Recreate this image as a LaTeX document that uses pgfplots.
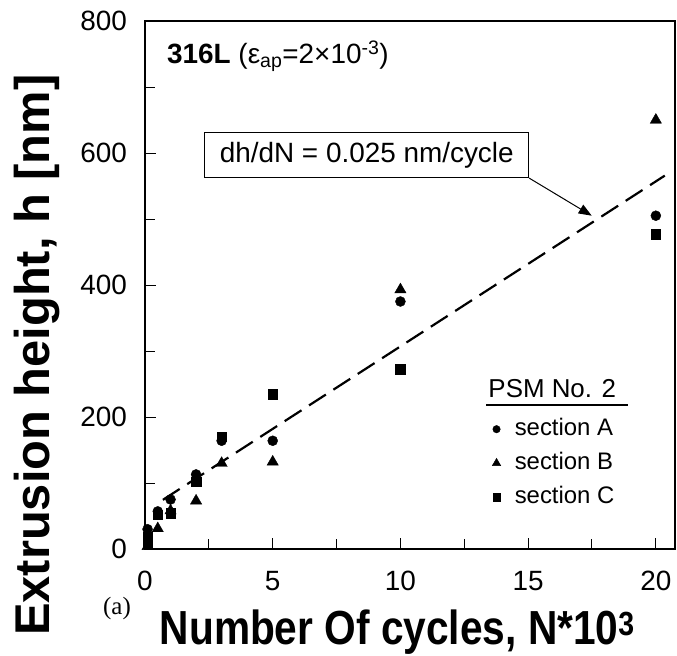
\documentclass[border=0pt]{standalone}
\usepackage{fontspec}
\setmainfont{Liberation Sans}
\newfontfamily\seriffont{Liberation Serif}
\usepackage{graphicx}
\usepackage{pgfplots}
\pgfplotsset{compat=1.18}
\usetikzlibrary{arrows.meta}

\begin{document}
\begin{tikzpicture}
\begin{axis}[
  at={(0bp,0bp)}, anchor=south west,
  width=530bp, height=528bp, scale only axis,
  xmin=0, xmax=20.75, ymin=0, ymax=800,
  xtick={0,5,10,15,20}, minor xtick={2.5,7.5,12.5,17.5},
  ytick={0,200,400,600,800}, minor ytick={100,300,500,700},
  xtick pos=bottom, ytick pos=left,
  tick align=inside, major tick length=11bp, minor tick length=10bp,
  every tick/.style={line width=1bp, black},
  axis line style={line width=1.3bp},
  /pgf/number format/assume math mode=true,
  ticklabel style={font=\fontsize{28}{28}\selectfont},
  yticklabel style={inner sep=0pt, xshift=-18bp},
  xticklabel style={inner sep=0pt, yshift=-22bp},
  xlabel={\scalebox{0.85}[1]{\textbf{Number Of cycles, N*10\textsuperscript{3}}}},
  ylabel={\textbf{Extrusion height, h [nm]}},
  xlabel style={font=\fontsize{48}{48}\selectfont, at={(axis description cs:0.476,0)}, anchor=base, yshift=-95bp},
  ylabel style={font=\fontsize{49}{49}\selectfont, at={(axis description cs:0,0.367)}, anchor=base, yshift=95bp},
  legend style={at={(axis cs:13.59,198.5)}, anchor=north west, draw=none, fill=none, inner sep=0pt,
    font=\fontsize{24}{24}\selectfont, row sep=12bp, column sep=14bp,
    nodes={inner sep=0pt, text height=17bp, text depth=5bp}},
  legend cell align=left,
  legend image code/.code={\draw[#1, /tikz/every mark/.append style={scale=0.75}] plot coordinates {(0bp,0bp)};},
]
\addplot[only marks, mark=*, mark size=5bp, black] coordinates {
  (0.1,30) (0.5,57) (1,75) (2,113) (3,164) (5,164) (10,375) (20,505)};
\addlegendentry{section A}
\addplot[only marks, mark=triangle*, mark size=6.5bp, black] coordinates {
  (0.1,4) (0.5,31) (1,58) (2,73) (3,130) (5,132) (10,393) (20,650)};
\addlegendentry{section B}
\addplot[only marks, mark=square*, mark size=4.8bp, black] coordinates {
  (0.1,18) (0.1,10) (0.5,52) (1,54) (2,102) (3,170) (5,235) (10,272) (20,477)};
\addlegendentry{section C}
\addplot[black, line width=2.2bp, dash pattern=on 20bp off 9bp, forget plot] coordinates {
  (0.7,74.5) (20.35,565.75)};

\node[draw, line width=1bp, anchor=south east, inner xsep=15bp, inner ysep=9.5bp,
  font=\fontsize{28}{28}\selectfont, text height=20bp, text depth=6bp, fill=white]
  at (axis cs:15.04,562) {dh/dN = 0.025 nm/cycle};
\draw[line width=1bp, -{Triangle[length=13bp,width=10bp]}] (axis cs:15.04,562) -- (axis cs:17.49,505);

\node[anchor=base west, inner sep=0pt, font=\fontsize{28}{28}\selectfont] at (axis cs:0.86,735)
  {\textbf{316L} (ε\textsubscript{ap}=2×10\textsuperscript{-3})};

\node[anchor=base west, inner sep=0pt, font=\fontsize{26}{26}\selectfont] at (axis cs:13.44,228.8) {PSM No. 2};
\draw[line width=1.3bp] (axis cs:13.36,218.2) -- (axis cs:18.9,218.2);
\end{axis}
\node[font=\seriffont\fontsize{25}{25}\selectfont] at (-28bp,-60bp) {(a)};
\pgfresetboundingbox
\path[use as bounding box] (-145bp,-107bp) rectangle (532bp,549bp);
\end{tikzpicture}
\end{document}
